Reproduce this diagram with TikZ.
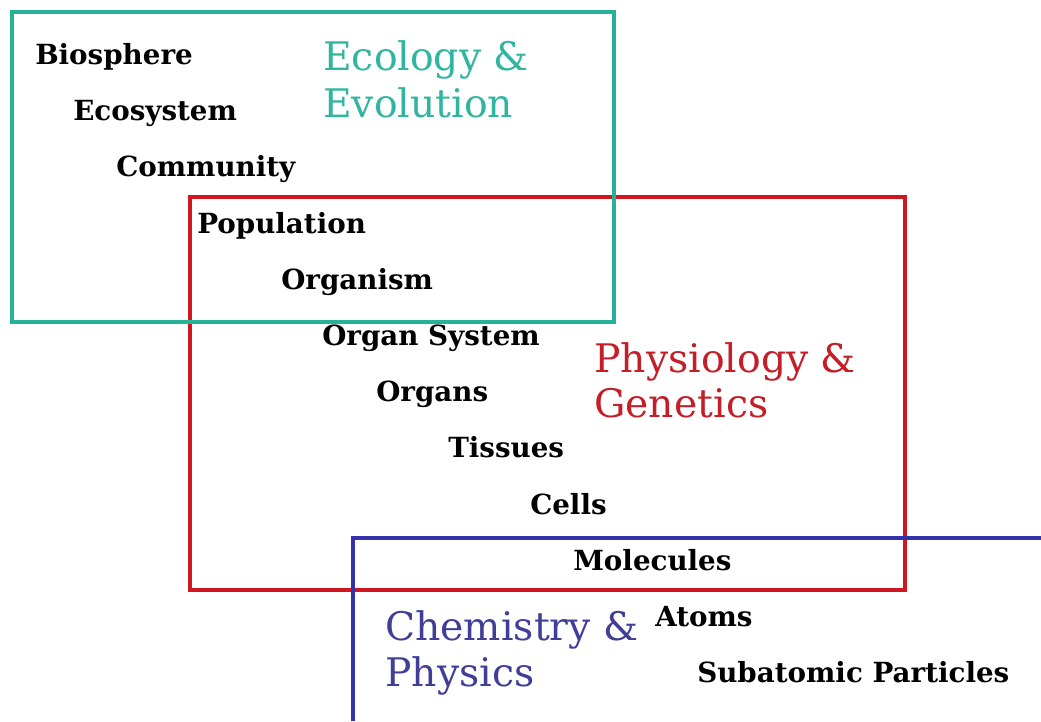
\documentclass[tikz,border=0pt]{standalone}
\usepackage{fontspec}
\setmainfont{DejaVu Serif}
\definecolor{tealc}{RGB}{38,178,152}
\definecolor{redc}{RGB}{208,22,30}
\definecolor{bluec}{RGB}{52,50,170}
\definecolor{tealt}{RGB}{48,182,160}
\definecolor{redt}{RGB}{196,30,40}
\definecolor{bluet}{RGB}{64,62,150}
\tikzset{
  lvl/.style={anchor=base west, inner sep=0pt, font=\bfseries\fontsize{20.8}{24}\selectfont},
  field/.style={anchor=base west, inner sep=0pt, font=\fontsize{29.5}{36}\selectfont},
  area/.style={line width=3pt}
}
\begin{document}
\begin{tikzpicture}[x=0.75pt,y=-0.75pt]
\useasboundingbox[fill=white] (0,0) rectangle (1041,721);
% boxes
\node[area, draw=redc, minimum width=715*0.75pt, minimum height=393*0.75pt, anchor=north west, inner sep=0pt] (phys) at (188,195) {};
\node[area, draw=tealc, minimum width=602*0.75pt, minimum height=310*0.75pt, anchor=north west, inner sep=0pt] (eco) at (10,10) {};
\coordinate (bTR) at (1041,538);
\coordinate (bTL) at (353,538);
\coordinate (bBL) at (353,721);
\draw[area, draw=bluec] (bTR) -- (bTL) -- (bBL);
% levels
\node[lvl] (bio) at (35,64) {Biosphere};
\node[lvl] (ecos) at (73,120) {Ecosystem};
\node[lvl] (comm) at (116,176) {Community};
\node[lvl] (pop) at (197,233) {Population};
\node[lvl] (org) at (281,289) {Organism};
\node[lvl] (orgsys) at (322,345) {Organ System};
\node[lvl] (organs) at (376,401) {Organs};
\node[lvl] (tis) at (448,457) {Tissues};
\node[lvl] (cells) at (530,514) {Cells};
\node[lvl] (mol) at (573,570) {Molecules};
\node[lvl] (atoms) at (655,626) {Atoms};
\node[lvl] (sub) at (697,682) {Subatomic Particles};
% field labels
\node[field, text=tealt] (ecoA) at (323,70) {Ecology \&};
\node[field, text=tealt] (ecoB) at (323,117) {Evolution};
\node[field, text=redt] (physA) at (594,372) {Physiology \&};
\node[field, text=redt] (physB) at (594,417) {Genetics};
\node[field, text=bluet] (chemA) at (385,640) {Chemistry \&};
\node[field, text=bluet] (chemB) at (385,686) {Physics};
\end{tikzpicture}
\end{document}
